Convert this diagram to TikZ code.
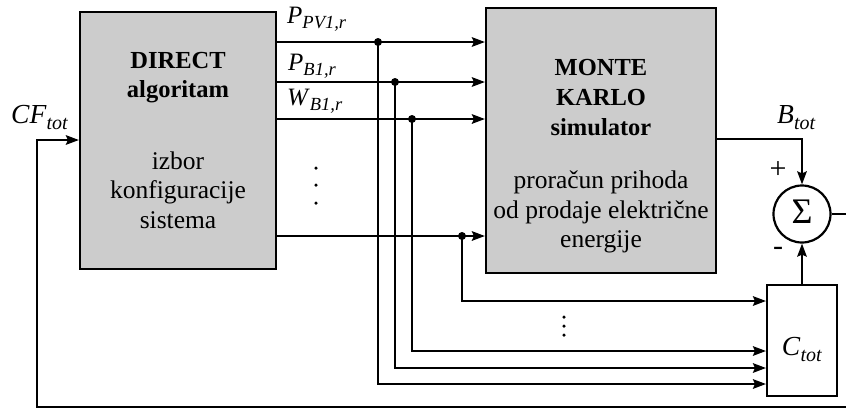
\documentclass[tikz,border=0pt]{standalone}
\usepackage{fontspec}
\setmainfont{Liberation Serif}
\usetikzlibrary{arrows.meta}
\definecolor{boxgray}{HTML}{CCCCCC}
\newcommand\sbl[2]{\textit{#1}\raisebox{-5.5pt}{\fontsize{18.5}{18.5}\selectfont\textit{#2}}}
\newcommand\sblb[2]{\textit{#1}\raisebox{-6pt}{\fontsize{20}{20}\selectfont\textit{#2}}}
\tikzset{
  block/.style={draw, fill=boxgray, line width=2.2pt, inner sep=0pt},
  wbox/.style={draw, fill=white, line width=2.2pt, inner sep=0pt},
  txt/.style={font=\fontsize{25.5}{29.5}\selectfont, anchor=base, inner sep=0pt},
  btxt/.style={font=\fontsize{24.5}{29.5}\selectfont\bfseries, anchor=base, inner sep=0pt},
  lbl/.style={font=\fontsize{25}{29.5}\selectfont, anchor=base west, inner sep=0pt},
  biglbl/.style={font=\fontsize{27.5}{30}\selectfont, anchor=base west, inner sep=0pt},
  conn/.style={line width=2.2pt},
  arr/.style={line width=2.2pt, -{Stealth[length=13pt,width=9.5pt,inset=2pt]}},
  jdot/.style={fill, circle, inner sep=0pt, minimum size=8pt},
  vdot/.style={fill, circle, inner sep=0pt, minimum size=3.5pt}
}
\begin{document}
\begin{tikzpicture}[x=1pt,y=-1pt]
\useasboundingbox (0,0) rectangle (846,408);
% blocks
\node[block, minimum width=196, minimum height=257] (dir) at (178,140.5) {};
\node[block, minimum width=230, minimum height=265] (mc) at (601,140.5) {};
\node[wbox, minimum width=70, minimum height=111] (ctot) at (802,340.5) {};
\node[draw, circle, line width=2.2pt, minimum size=57, inner sep=0pt] (sum) at (802,214) {};
% block texts
\node[btxt] (t1) at (178,68) {DIRECT};
\node[btxt] (t2) at (178,97) {algoritam};
\node[txt] (t3) at (178,169) {izbor};
\node[txt] (t4) at (178,198) {konfiguracije};
\node[txt] (t5) at (178,228) {sistema};
\node[btxt] (m1) at (601,75) {MONTE};
\node[btxt] (m2) at (601,105) {KARLO};
\node[btxt] (m3) at (601,135) {simulator};
\node[txt] (m4) at (601,188) {proračun prihoda};
\node[txt] (m5) at (601,218) {od prodaje električne};
\node[txt] (m6) at (601,247) {energije};
\node[biglbl, anchor=base] (ct) at (802,355) {\sblb{C}{tot}};
\node[font=\fontsize{36}{36}\selectfont, inner sep=0pt] (sg) at (802,212) {Σ};
% labels
\node[lbl] (lp1) at (287,23) {\sbl{P}{PV1,r}};
\node[lbl] (lp2) at (288,70) {\sbl{P}{B1,r}};
\node[lbl] (lw1) at (287,105) {\sbl{W}{B1,r}};
\node[biglbl] (lcf) at (11,123) {\sblb{CF}{tot}};
\node[biglbl] (lb) at (777,123) {\sblb{B}{tot}};
\node[font=\fontsize{30}{30}\selectfont, inner sep=0pt] (plus) at (778,170) {+};
\node[font=\fontsize{30}{30}\selectfont, inner sep=0pt] (minus) at (778,251) {-};
% junctions
\coordinate (j1) at (378,42);
\coordinate (j2) at (395,82);
\coordinate (j3) at (412,119);
\coordinate (j4) at (462,236);
\coordinate (k1) at (766,384);
\coordinate (k2) at (766,368);
\coordinate (k3) at (766,351);
\coordinate (k4) at (766,301);
\coordinate (fb1) at (846,407);
\coordinate (fb2) at (37,407);
\coordinate (fb3) at (37,140);
\coordinate (out) at (846,214);
% signal lines
\draw[arr] (dir.east |- j1) -- (mc.west |- j1);
\draw[arr] (dir.east |- j2) -- (mc.west |- j2);
\draw[arr] (dir.east |- j3) -- (mc.west |- j3);
\draw[arr] (dir.east |- j4) -- (mc.west |- j4);
\draw[arr] (j1) |- (k1);
\draw[arr] (j2) |- (k2);
\draw[arr] (j3) |- (k3);
\draw[arr] (j4) |- (k4);
\node[jdot] at (j1) {};
\node[jdot] at (j2) {};
\node[jdot] at (j3) {};
\node[jdot] at (j4) {};
% sum connections
\draw[arr] (mc.east |- 0,139) -| (sum.north);
\draw[arr] (ctot.north) -- (sum.south);
\draw[conn] (sum.east) -- (out);
% feedback
\draw[arr] (fb1) -- (fb2) -- (fb3) -- (dir.west |- fb3);
% ellipses
\node[vdot] at (316,168) {};
\node[vdot] at (316,185) {};
\node[vdot] at (316,203) {};
\node[vdot] at (564,317) {};
\node[vdot] at (564,326) {};
\node[vdot] at (564,335) {};
\end{tikzpicture}
\end{document}
